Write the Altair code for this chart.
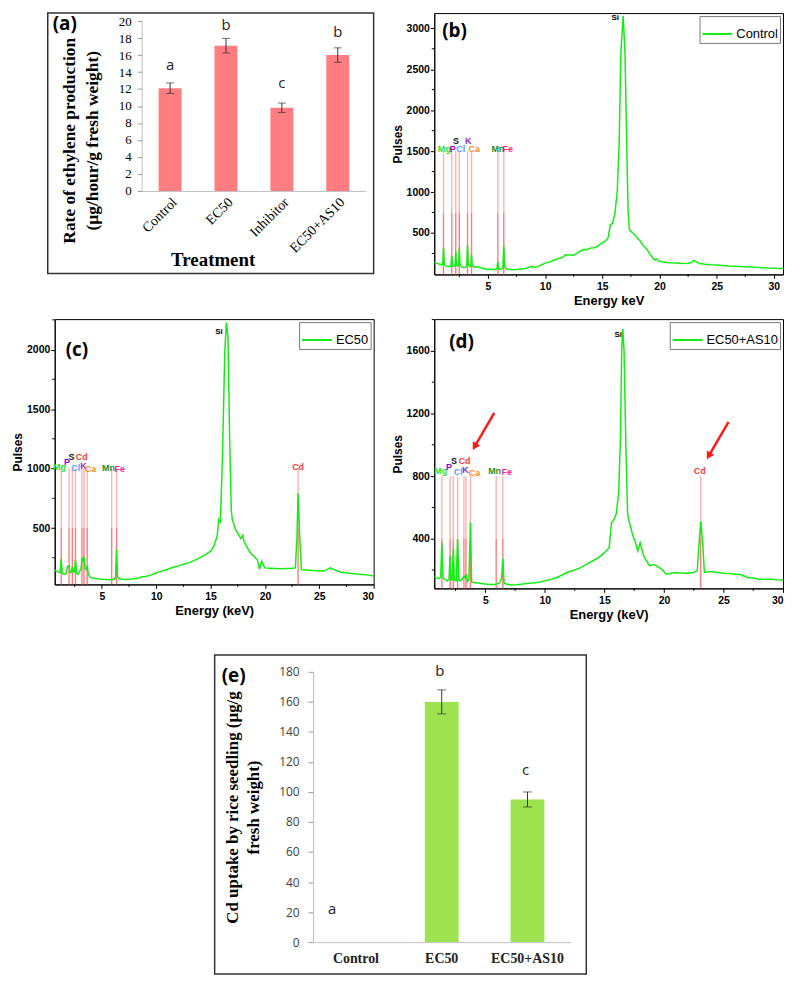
import altair as alt
import pandas as pd

# ---------------- data ----------------
# (a) ethylene production
a_treat = ["Control", "EC50", "Inhibitor", "EC50+AS10"]
a_rate = [12.1, 17.1, 9.8, 16.0]
a_err = [0.62, 0.86, 0.55, 0.85]
a_letter = ["a", "b", "c", "b"]
a_letter_y = [14.8, 19.5, 12.7, 18.7]

# (e) Cd uptake
e_treat = ["Control", "EC50", "EC50+AS10"]
e_cd = [0, 160, 95]
e_err = [0, 8, 5]
e_letter = ["a", "b", "c"]
e_letter_y = [21.7, 180.4, 114.3]

# (b) Control spectrum
b_kev = [0.3, 0.5, 0.7, 0.9, 1.04, 1.11, 1.18, 1.35, 1.55, 1.75, 1.83, 1.9, 2.05, 2.12, 2.18, 2.24,
         2.36, 2.43, 2.49, 2.55, 2.7, 2.9, 3.05, 3.14, 3.21, 3.28, 3.42, 3.5, 3.56, 3.62, 3.8, 4.0,
         4.2, 4.4, 4.7, 5.0, 5.3, 5.6, 5.78, 5.86, 5.94, 6.1, 6.3, 6.38, 6.46, 6.6, 6.9, 7.3, 7.7,
         8.0, 8.3, 8.6, 8.8, 9.1, 9.5, 9.8, 10.0, 10.4, 10.8, 11.1, 11.5, 11.8, 12.1, 12.5, 12.8,
         13.1, 13.4, 13.7, 14.0, 14.3, 14.6, 14.9, 15.2, 15.5, 15.7, 15.9, 16.1, 16.3, 16.47, 16.62,
         16.82, 16.98, 17.13, 17.25, 17.35, 17.5, 17.7, 17.9, 18.1, 18.3, 18.5, 18.7, 18.9, 19.1,
         19.3, 19.5, 19.6, 19.7, 19.9, 20.2, 20.6, 21.0, 21.5, 22.0, 22.5, 22.8, 23.0, 23.2, 23.5,
         24.0, 24.5, 25.0, 25.5, 26.0, 26.5, 27.0, 27.5, 28.0, 28.5, 29.0, 29.5, 30.0, 30.4, 30.8]
b_pulses = [140, 132, 122, 112, 110, 318, 115, 95, 90, 92, 224, 100, 92, 105, 277, 112,
            95, 110, 326, 118, 85, 75, 82, 100, 350, 112, 90, 102, 237, 105, 80, 88,
            85, 72, 62, 55, 58, 55, 62, 150, 62, 55, 68, 346, 95, 60, 55, 52, 58,
            62, 66, 85, 92, 78, 98, 118, 132, 145, 170, 185, 200, 235, 232, 228, 255,
            280, 300, 295, 318, 320, 340, 372, 395, 439, 600, 620, 743, 1000, 1600, 2700,
            3154, 2700, 1600, 780, 545, 520, 490, 470, 430, 405, 360, 330, 300, 257,
            215, 180, 170, 185, 160, 148, 140, 135, 133, 128, 130, 140, 165, 150, 128,
            118, 112, 108, 104, 98, 95, 90, 88, 84, 80, 76, 72, 70, 66, 65]

# (c) EC50 spectrum
c_kev = [0.66, 0.85, 1.0, 1.15, 1.26, 1.36, 1.5, 1.7, 1.85, 1.98, 2.08, 2.18, 2.28, 2.38, 2.47,
         2.57, 2.67, 2.8, 2.95, 3.08, 3.17, 3.26, 3.35, 3.45, 3.55, 3.65, 3.75, 3.9, 4.2, 4.6,
         5.0, 5.4, 5.8, 6.1, 6.25, 6.35, 6.45, 6.6, 7.0, 7.5, 8.0, 8.4, 8.7, 9.0, 9.5, 10.0,
         10.5, 11.0, 11.5, 12.0, 12.5, 13.0, 13.5, 14.0, 14.5, 15.0, 15.3, 15.6, 15.75, 15.9,
         16.1, 16.3, 16.45, 16.6, 16.75, 16.9, 17.0, 17.3, 17.6, 17.8, 17.96, 18.1, 18.3, 18.6,
         18.8, 19.1, 19.3, 19.5, 19.7, 20.0, 20.5, 21.0, 21.5, 22.0, 22.5, 22.8, 22.95, 23.05,
         23.2, 23.35, 23.6, 24.0, 24.5, 25.0, 25.5, 26.0, 26.5, 27.0, 27.5, 28.0, 28.5, 29.0,
         29.5, 30.0]
c_pulses = [146, 135, 129, 125, 241, 120, 110, 115, 179, 180, 125, 128, 171, 130, 135,
            235, 120, 110, 138, 150, 249, 230, 263, 160, 152, 180, 110, 87, 80, 73,
            70, 68, 66, 70, 80, 319, 90, 73, 68, 70, 73, 80, 90, 92, 104, 124,
            138, 152, 168, 180, 195, 207, 228, 249, 275, 305, 347, 430, 570, 542,
            1127, 1964, 2229, 2103, 1267, 653, 570, 486, 440, 410, 440, 380, 347, 300,
            277, 250, 235, 152, 221, 165, 162, 160, 158, 160, 162, 165, 430, 793,
            430, 152, 150, 146, 142, 138, 140, 165, 145, 129, 124, 118, 114, 110,
            104, 96]

# (d) EC50+AS10 spectrum
d_kev = [0.71, 0.9, 1.1, 1.25, 1.35, 1.45, 1.6, 1.8, 1.95, 2.04, 2.12, 2.22, 2.31, 2.4, 2.55,
         2.67, 2.78, 2.9, 3.05, 3.2, 3.3, 3.37, 3.5, 3.62, 3.75, 3.85, 4.0, 4.4, 4.8, 5.2, 5.6,
         5.9, 6.2, 6.37, 6.47, 6.57, 6.8, 7.2, 7.6, 8.0, 8.5, 9.0, 9.5, 10.0, 10.5, 11.0, 11.5,
         12.0, 12.5, 13.0, 13.5, 14.0, 14.5, 15.0, 15.4, 15.6, 15.8, 16.0, 16.2, 16.35, 16.45,
         16.55, 16.65, 16.8, 16.95, 17.1, 17.4, 17.6, 17.8, 18.0, 18.3, 18.6, 18.8, 19.1, 19.3,
         19.6, 19.8, 20.2, 20.6, 21.0, 21.5, 22.0, 22.5, 22.8, 22.95, 23.1, 23.25, 23.4, 23.7,
         24.0, 24.5, 25.0, 25.5, 26.0, 26.5, 27.0, 27.5, 28.0, 28.5, 29.0, 29.5, 30.0]
d_pulses = [159, 150, 146, 153, 375, 150, 140, 131, 140, 290, 135, 140, 337, 135, 131,
            396, 135, 131, 142, 159, 150, 174, 125, 140, 506, 125, 121, 117, 112, 110, 108,
            110, 118, 150, 273, 118, 110, 104, 106, 110, 114, 117, 122, 131, 140, 153, 170,
            189, 200, 216, 236, 258, 280, 311, 343, 502, 523, 560, 700, 1052, 1600,
            1740, 1600, 1000, 560, 505, 417, 380, 322, 375, 290, 250, 227, 235, 231,
            215, 206, 174, 180, 184, 182, 180, 185, 195, 375, 512, 375, 184, 190,
            189, 185, 180, 178, 174, 170, 153, 150, 142, 142, 142, 138, 136]

# element marker lines and labels
b_el = ["Mg", "P", "S", "Cl", "K", "Ca", "Mn", "Fe"]
b_el_kev = [1.11, 1.83, 2.18, 2.49, 3.21, 3.56, 5.86, 6.38]
b_lab_x = [1.17, 1.92, 2.2, 2.61, 3.27, 3.79, 5.86, 6.73]
b_lab_y = [1525, 1525, 1626, 1525, 1626, 1525, 1525, 1525]

c_el = ["Mg", "P", "S", "Cl", "Cd", "K", "Ca", "Mn", "Fe", "Cd"]
c_el_kev = [1.26, 1.98, 2.28, 2.57, 3.17, 3.35, 3.65, 5.9, 6.35, 23.05]
c_lab_x = [1.1, 1.8, 2.2, 2.6, 3.15, 3.3, 3.95, 5.6, 6.65, 23.05]
c_lab_y = [1016, 1055, 1100, 1007, 1100, 1020, 1000, 1007, 996, 1013]

d_el = ["Mg", "P", "S", "Cl", "Cd", "K", "Ca", "Mn", "Fe", "Cd"]
d_el_kev = [1.35, 2.04, 2.31, 2.67, 3.2, 3.37, 3.75, 5.91, 6.47, 23.08]
d_lab_x = [1.26, 1.95, 2.37, 2.73, 3.26, 3.34, 4.09, 5.78, 6.8, 23.0]
d_lab_y = [830, 861, 896, 826, 896, 836, 819, 834, 826, 834]

# annotation arrows in (d)
arrow_x0 = [5.75, 25.43]
arrow_y0 = [1204, 1147]
arrow_x1 = [4.15, 23.81]
arrow_y1 = [995, 936]

# ---------------- styles ----------------
SERIF = "Liberation Serif"
SANS = "Liberation Sans"
GREEN = "#14ec14"
EL_COLOR = {"Mg": "#2fe02f", "P": "#9b00c8", "S": "#111111", "Cl": "#5f9dff", "K": "#8a2be2",
            "Ca": "#ff8c1a", "Mn": "#1e8c1e", "Fe": "#ff1f8f", "Cd": "#ff3b3b"}
ONE = pd.DataFrame({"k": [0]})


def frame(x1, x2, y1, y2):
    return alt.Chart(ONE).mark_rect(fill="white", fillOpacity=0.001).encode(
        x=alt.value(x1), x2=alt.value(x2), y=alt.value(y1), y2=alt.value(y2))


def box(x1, x2, y1, y2):
    return alt.Chart(ONE).mark_rect(fill="transparent", stroke="#333333", strokeWidth=1.5).encode(
        x=alt.value(x1), x2=alt.value(x2), y=alt.value(y1), y2=alt.value(y2))


def plabel(text, x, y):
    return alt.Chart(pd.DataFrame({"t": [text]})).mark_text(
        align="left", baseline="top", font="Open Sans", fontWeight="bold", fontSize=19, color="black"
    ).encode(x=alt.value(x), y=alt.value(y), text="t:N")


def spacer():
    return alt.Chart(ONE).mark_rect(fill="white", fillOpacity=0.001).encode(
        x=alt.value(0), x2=alt.value(1), y=alt.value(0), y2=alt.value(1)
    ).properties(width=1, height=1, view=alt.ViewBackground(stroke="transparent"))


# ---------------- panel (a) ----------------
dfa = pd.DataFrame({"treat": a_treat, "rate": a_rate, "err": a_err,
                    "letter": a_letter, "ly": a_letter_y})
dfa["lo"] = dfa["rate"] - dfa["err"]
dfa["hi"] = dfa["rate"] + dfa["err"]
ax_a_x = alt.Axis(title="Treatment", labelAngle=-45, labelFont=SERIF, labelFontSize=14,
                  labelColor="black", ticks=False, tickSize=0, labelPadding=4,
                  domainColor="#bfbfbf", titleFont=SERIF, titleFontSize=19,
                  titleFontWeight="bold", titleColor="black", titleX=71, titleY=75,
                  titleBaseline="alphabetic")
ax_a_y = alt.Axis(values=list(range(0, 21, 2)), grid=False, labelFont=SERIF,
                  labelFontSize=13, labelColor="black", tickSize=5, tickColor="#999999",
                  labelPadding=6, domain=False, labelOverlap=False,
                  title=["Rate of ethylene production", "(µg/hour/g fresh weight)"],
                  titleFont=SERIF, titleFontSize=17.5, titleFontWeight="bold",
                  titleColor="black", titleX=-64, titleY=128, titleLineHeight=23)
sc_a_x = alt.Scale(paddingInner=0.59, paddingOuter=0.295)
sc_a_y = alt.Scale(domain=[0, 20.94], nice=False)


def xa():
    return alt.X("treat:N", sort=a_treat, scale=sc_a_x, axis=ax_a_x)


def ya(f):
    return alt.Y(f, scale=sc_a_y, axis=ax_a_y)


bars_a = alt.Chart(dfa).mark_bar(color="#ff7c80").encode(x=xa(), y=ya("rate:Q"))
err_a = alt.Chart(dfa).mark_rule(color="#333333", strokeWidth=1).encode(x=xa(), y=ya("lo:Q"), y2="hi:Q")
caph_a = alt.Chart(dfa).mark_tick(color="#333333", size=8, thickness=1).encode(x=xa(), y=ya("hi:Q"))
capl_a = alt.Chart(dfa).mark_tick(color="#333333", size=8, thickness=1).encode(x=xa(), y=ya("lo:Q"))
let_a = alt.Chart(dfa).mark_text(font="Open Sans", fontSize=15, color="#222222").encode(
    x=xa(), y=ya("ly:Q"), text="letter:N")
ydom_a = alt.Chart(pd.DataFrame({"v0": [0], "v1": [20]})).mark_rule(
    color="#bfbfbf", strokeWidth=1).encode(x=alt.value(0), y=ya("v0:Q"), y2="v1:Q")
panel_a = alt.layer(
    bars_a, err_a, caph_a, capl_a, let_a, ydom_a,
    box(-95, 233, 0, 262), plabel("(a)", -90, 2), frame(-131, 248, -1, 297)
).properties(width=225, height=179, view=alt.ViewBackground(stroke="transparent"))


# ---------------- spectra ----------------
def spectrum(kev, pulses, name, xdom, ydom, ymajor, yminor, el, el_kev, mid, top,
             lab_x, lab_y, si_xy, W, H, xtitle, lab, lab_xy, frm, extra=()):
    lo = ydom[0]
    df = pd.DataFrame({"kev": kev, "pulses": pulses, "series": [name] * len(kev)})
    ymaj = [v for v in range(ymajor, int(ydom[1]) + 1, ymajor) if v >= ydom[0]]
    ymin = [v for v in range(yminor, int(ydom[1]) + 1, yminor) if v >= ydom[0] and v % ymajor != 0]
    xmaj = [5, 10, 15, 20, 25, 30]
    xmin = [2.5, 7.5, 12.5, 17.5, 22.5, 27.5]
    xaxis = alt.Axis(values=xmaj, tickSize=4, grid=False, labelFont=SANS, labelFontWeight="bold",
                     labelFontSize=10.5, labelColor="black", tickColor="black", format="d",
                     domainColor="black", labelPadding=3, labelOverlap=False,
                     title=xtitle, titleFont=SANS, titleFontWeight="bold", titleFontSize=13,
                     titleColor="black", titlePadding=3)
    yaxis = alt.Axis(values=ymaj, tickSize=4, grid=False, labelFont=SANS, labelFontWeight="bold",
                     labelFontSize=10.5, labelColor="black", tickColor="black", format="d",
                     domainColor="black", labelPadding=1, labelOverlap=False,
                     title="Pulses", titleFont=SANS, titleFontWeight="bold", titleFontSize=12,
                     titleColor="black", titlePadding=2)
    xsc = alt.Scale(domain=xdom, nice=False, zero=False)
    ysc = alt.Scale(domain=ydom, nice=False, zero=False)

    def X(f):
        return alt.X(f, scale=xsc, axis=xaxis)

    def Y(f):
        return alt.Y(f, scale=ysc, axis=yaxis)

    line = alt.Chart(df).mark_line(strokeWidth=1.5, clip=True).encode(
        x=X("kev:Q"), y=Y("pulses:Q"),
        color=alt.Color("series:N", scale=alt.Scale(domain=[name], range=[GREEN]),
                        legend=alt.Legend(title=None, orient="top-right", offset=3,
                                          symbolType="stroke", symbolSize=900,
                                          symbolStrokeWidth=2, labelFont=SANS, labelFontSize=13,
                                          labelColor="black", strokeColor="#777777",
                                          fillColor="white", padding=2, labelOffset=3)))
    xminor = alt.Chart(pd.DataFrame({"kev": xmin})).mark_rule(color="black", strokeWidth=1).encode(
        x=X("kev:Q"), y=alt.value(H), y2=alt.value(H + 2.5))
    yminor_l = alt.Chart(pd.DataFrame({"pulses": ymin})).mark_rule(color="black", strokeWidth=1).encode(
        y=Y("pulses:Q"), x=alt.value(0), x2=alt.value(-2.5))
    dfe = pd.DataFrame({"kev": el_kev, "pulses": [lo] * len(el_kev),
                        "mid": [mid] * len(el_kev), "top": [top] * len(el_kev)})
    low_rules = alt.Chart(dfe).mark_rule(color="#ff5a5a", strokeWidth=1.4, opacity=0.8).encode(
        x=X("kev:Q"), y=Y("pulses:Q"), y2="mid:Q")
    up_rules = alt.Chart(dfe).mark_rule(color="#ffa3a3", strokeWidth=1.4, opacity=0.85).encode(
        x=X("kev:Q"), y=Y("mid:Q"), y2="top:Q")
    dfl = pd.DataFrame({"kev": lab_x, "pulses": lab_y, "name": el,
                        "col": [EL_COLOR[e] for e in el]})
    labels = alt.Chart(dfl).mark_text(font=SANS, fontWeight="bold", fontSize=9).encode(
        x=X("kev:Q"), y=Y("pulses:Q"), text="name:N", color=alt.Color("col:N", scale=None))
    si = alt.Chart(pd.DataFrame({"kev": [si_xy[0]], "pulses": [si_xy[1]], "name": ["Si"]})).mark_text(
        font=SANS, fontWeight="bold", fontSize=8, color="black").encode(
        x=X("kev:Q"), y=Y("pulses:Q"), text="name:N")
    ex = [f(X, Y) for f in extra]
    layers = [low_rules, up_rules, line, labels, si, xminor, yminor_l, *ex,
              plabel(lab, lab_xy[0], lab_xy[1]), frame(*frm)]
    return alt.layer(*layers).resolve_scale(color="independent").properties(
        width=W, height=H, view=alt.ViewBackground(stroke="black", strokeWidth=1))


panel_b = spectrum(b_kev, b_pulses, "Control", [0.3, 30.8], [-6, 3186], 500, 250,
                   b_el, b_el_kev, 750, 1500, b_lab_x, b_lab_y, (16.12, 3120), 351, 263,
                   "Energy keV", "(b)", (8, 9), (-44, 352, -1, 297))
panel_c = spectrum(c_kev, c_pulses, "EC50", [0.66, 30], [26, 2256], 500, 250,
                   c_el, c_el_kev, 500, 1000, c_lab_x, c_lab_y, (15.78, 2145), 321, 267,
                   "Energy (keV)", "(c)", (11, 22), (-43, 336, -9, 309))

adf = pd.DataFrame({"kev": arrow_x0, "pulses": arrow_y0, "kev2": arrow_x1, "pulses2": arrow_y1})


def arrow_lines(X, Y):
    return alt.Chart(adf).mark_rule(color="#ff1a1a", strokeWidth=2.5).encode(
        x=X("kev:Q"), y=Y("pulses:Q"), x2="kev2:Q", y2="pulses2:Q")


def arrow_heads(X, Y):
    return alt.Chart(adf).mark_point(shape="triangle", angle=210, size=75, filled=True,
                                     color="#ff1a1a", opacity=1).encode(x=X("kev2:Q"), y=Y("pulses2:Q"))


panel_d = spectrum(d_kev, d_pulses, "EC50+AS10", [0.71, 30], [83, 1803], 400, 200,
                   d_el, d_el_kev, 400, 800, d_lab_x, d_lab_y, (16.16, 1704), 351, 271,
                   "Energy (keV)", "(d)", (15, 14), (-44, 352, -9, 309),
                   extra=(arrow_lines, arrow_heads))

# ---------------- panel (e) ----------------
dfe_ = pd.DataFrame({"treat": e_treat, "cd": e_cd, "err": e_err, "letter": e_letter, "ly": e_letter_y})
dfe_["lo"] = dfe_["cd"] - dfe_["err"]
dfe_["hi"] = dfe_["cd"] + dfe_["err"]
ax_e_x = alt.Axis(title=None, labelAngle=0, labelFont=SERIF, labelFontSize=14,
                  labelFontWeight="bold", labelColor="#222222", ticks=False, tickSize=0,
                  labelPadding=10, domainColor="#bfbfbf")
ax_e_y = alt.Axis(values=list(range(0, 181, 20)), grid=False, labelFont="Open Sans",
                  labelFontSize=12, labelColor="#404040", tickSize=5, tickColor="#999999",
                  labelPadding=9, domainColor="#bfbfbf", labelOverlap=False,
                  title=["Cd uptake by rice seedling (µg/g", "fresh weight)"],
                  titleFont=SERIF, titleFontSize=17, titleFontWeight="bold",
                  titleColor="black", titleX=-72, titleY=136, titleLineHeight=21)
sc_e_x = alt.Scale(paddingInner=0.606, paddingOuter=0.303)
sc_e_y = alt.Scale(domain=[0, 180], nice=False)


def xe():
    return alt.X("treat:N", sort=e_treat, scale=sc_e_x, axis=ax_e_x)


def ye(f):
    return alt.Y(f, scale=sc_e_y, axis=ax_e_y)


dfe_bars = dfe_[dfe_["err"] > 0]
bars_e = alt.Chart(dfe_).mark_bar(color="#9de24f").encode(x=xe(), y=ye("cd:Q"))
err_e = alt.Chart(dfe_bars).mark_rule(color="#333333", strokeWidth=1).encode(x=xe(), y=ye("lo:Q"), y2="hi:Q")
caph_e = alt.Chart(dfe_bars).mark_tick(color="#333333", size=9, thickness=1).encode(x=xe(), y=ye("hi:Q"))
capl_e = alt.Chart(dfe_bars).mark_tick(color="#333333", size=9, thickness=1).encode(x=xe(), y=ye("lo:Q"))
let_e_main = alt.Chart(dfe_[dfe_["treat"] != "Control"]).mark_text(
    font="Open Sans", fontSize=15, color="#222222", dx=-2).encode(x=xe(), y=ye("ly:Q"), text="letter:N")
let_e_ctrl = alt.Chart(dfe_[dfe_["treat"] == "Control"]).mark_text(
    font="Open Sans", fontSize=15, color="#222222", dx=-24).encode(x=xe(), y=ye("ly:Q"), text="letter:N")
panel_e = alt.layer(
    bars_e, err_e, caph_e, capl_e, let_e_main, let_e_ctrl,
    box(-99, 275, -17, 304), plabel("(e)", -92, -5), frame(-303, 288, -44, 305)
).properties(width=259, height=272, view=alt.ViewBackground(stroke="transparent"))

row1 = alt.hconcat(spacer(), panel_a, panel_b, spacing=0)
row2 = alt.hconcat(spacer(), panel_c, panel_d, spacing=0)
row3 = alt.hconcat(spacer(), panel_e, spacing=0)
chart = alt.vconcat(row1, row2, row3, spacing=0).properties(padding=0).configure_axis(
    labelOverlap=False)

chart.save("out.html", embed_options={"renderer": "svg", "actions": False})
